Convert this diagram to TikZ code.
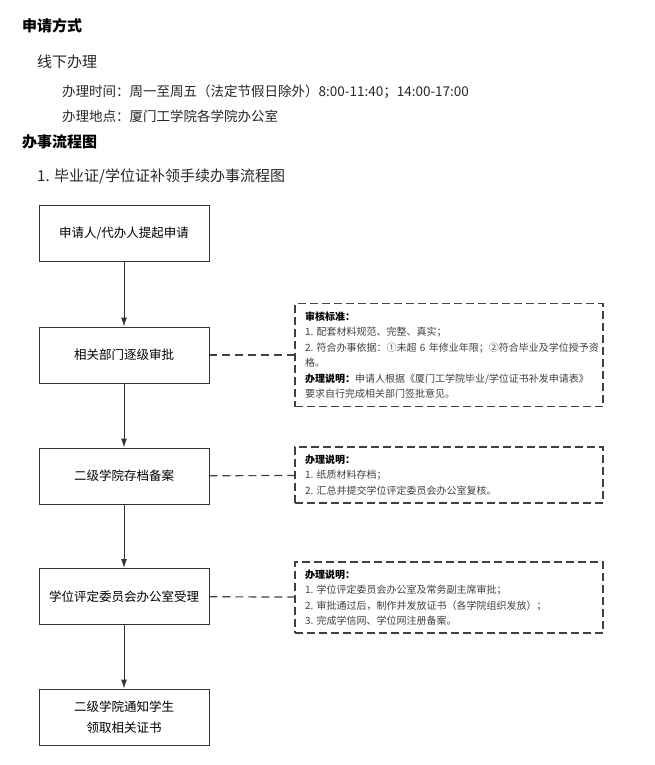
\documentclass[tikz,border=0pt]{standalone}
\usepackage{fontspec}
\setmainfont{Noto Sans CJK SC}
\usetikzlibrary{arrows.meta}

\begin{document}
\begin{tikzpicture}[x = 1pt, y = -1pt]
    \tikzstyle{edge}=[draw,line width = 1pt,-{Latex[length=9pt,width=6pt]},black!80]
    \tikzstyle{link}=[draw,line width = 1.2pt,dash pattern=on 8pt off 5pt,black!75]
    \tikzstyle{stage}=[draw,line width = .9pt,black!80,text=black,minimum width = 170pt,minimum height = 56pt,align=center,font=\fontsize{12.5}{21}\selectfont]
    \tikzstyle{note}=[draw,line width = 1.2pt,dash pattern=on 8pt off 4pt,black!75,text=black!75,text width = 288pt,inner xsep = 10pt,align=left,font=\fontsize{10}{15.5}\selectfont]
    \tikzstyle{heading}=[anchor=west,inner sep=0pt,font=\bfseries\fontsize{15}{15}\selectfont]
    \tikzstyle{plain}=[anchor=west,inner sep=0pt,text=black!85]
    \useasboundingbox (0,0) rectangle (655,765);
    \node[heading] (way) at (22,26) {申请方式};
    \node[plain,font=\fontsize{15}{15}\selectfont] (offline) at (37,62) {线下办理};
    \node[plain,font=\fontsize{13.5}{13.5}\selectfont] (hours) at (62,92) {办理时间：周一至周五（法定节假日除外）8:00-11:40；14:00-17:00};
    \node[plain,font=\fontsize{13.5}{13.5}\selectfont] (place) at (62,116) {办理地点：厦门工学院各学院办公室};
    \node[heading] (flow) at (22,142) {办事流程图};
    \node[plain,font=\fontsize{15}{15}\selectfont] (title) at (37,176) {1. 毕业证/学位证补领手续办事流程图};
    \node[stage] (apply) at (124,233) {申请人/代办人提起申请};
    \node[stage] (approve) at (124,355) {相关部门逐级审批};
    \node[stage] (archive) at (124,476) {二级学院存档备案};
    \node[stage] (accept) at (124,596.5) {学位评定委员会办公室受理};
    \node[stage] (notify) at (124,717) {二级学院通知学生\\领取相关证书};
    \node[note,minimum height = 103pt] (approvenote) at (449,355) {\textcolor{black}{\textbf{审核标准：}}\\1.~配套材料规范、完整、真实；\\2.~符合办事依据：①未超~6~年修业年限；②符合毕业及学位授予资\\格。\\\textcolor{black}{\textbf{办理说明：}}申请人根据《厦门工学院毕业/学位证书补发申请表》\\要求自行完成相关部门签批意见。};
    \node[note,minimum height = 56pt] (archivenote) at (449,475) {\textcolor{black}{\textbf{办理说明：}}\\1.~纸质材料存档；\\2.~汇总并提交学位评定委员会办公室复核。};
    \node[note,minimum height = 71pt] (acceptnote) at (449,597.5) {\textcolor{black}{\textbf{办理说明：}}\\1.~学位评定委员会办公室及常务副主席审批；\\2.~审批通过后，制作并发放证书（各学院组织发放）；\\3.~完成学信网、学位网注册备案。};
    \draw[edge] (apply) -- (approve);
    \draw[edge] (approve) -- (archive);
    \draw[edge] (archive) -- (accept);
    \draw[edge] (accept) -- (notify);
    \draw[link] (approve) -- (approvenote);
    \draw[link] (archive) -- (archivenote);
    \draw[link] (accept) -- (acceptnote);
\end{tikzpicture}
\end{document}
